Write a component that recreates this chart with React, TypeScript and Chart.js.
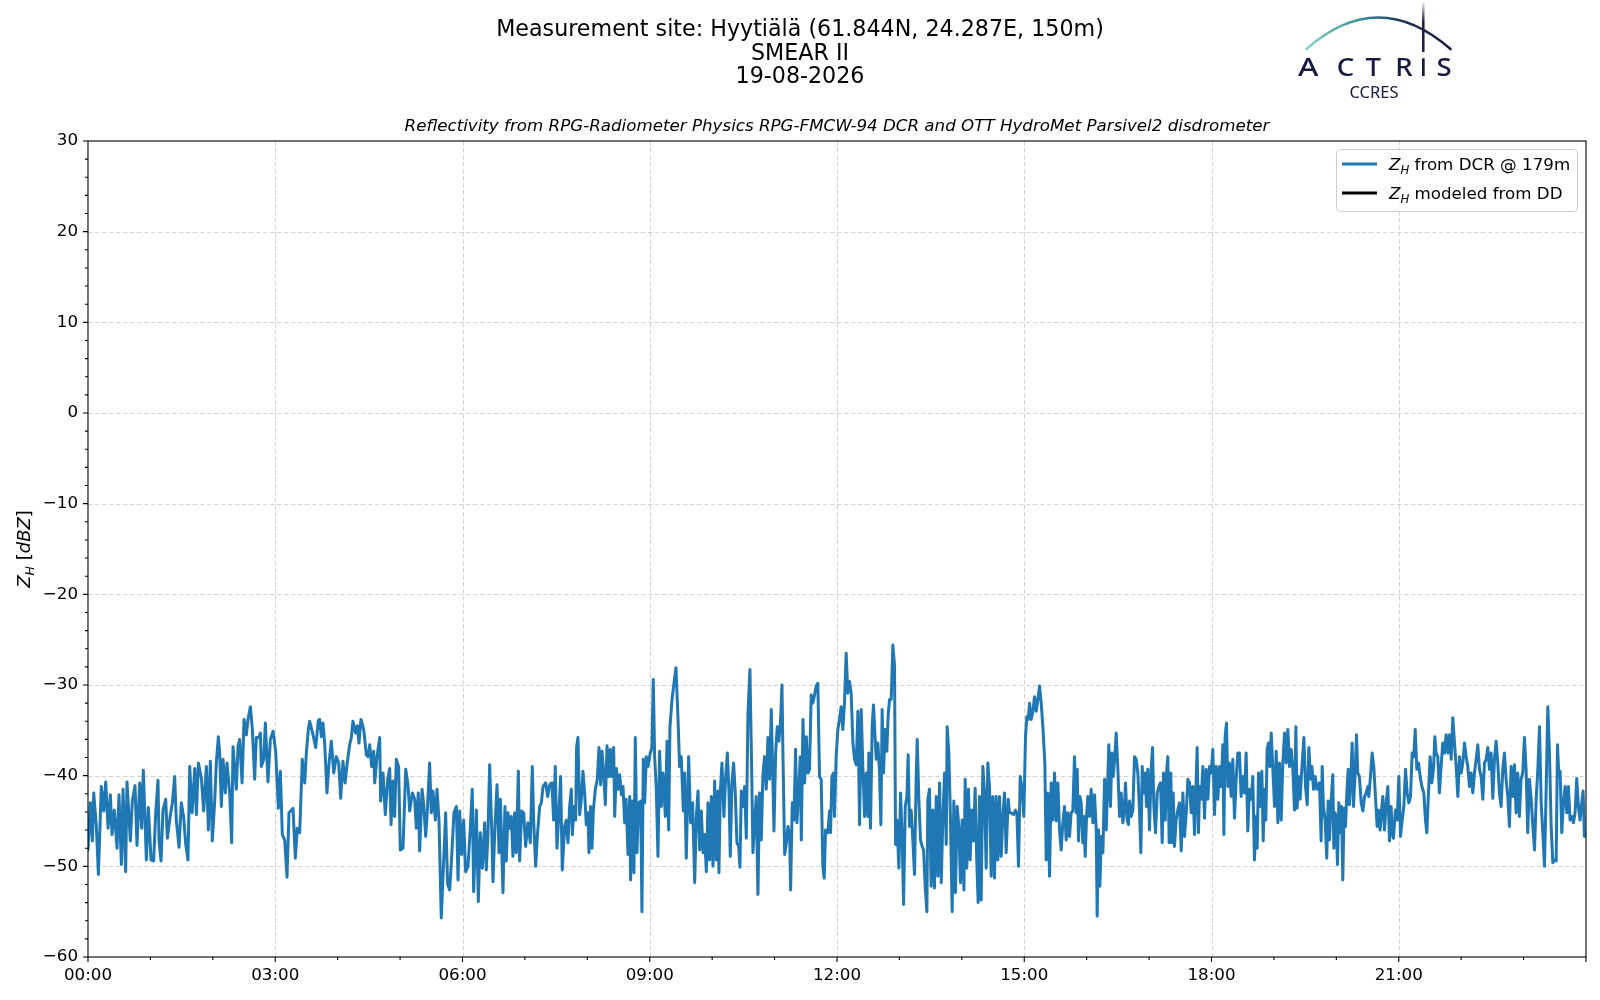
import { useEffect, useRef } from "react"
import { Chart, registerables } from "chart.js"

Chart.register(...registerables)

// time in minutes after 00:00 UTC, Z_H in dBZ (DCR @ 179 m)
const dcrSamples: [number, number][] = [
  [0, -48.2], [2.3, -43.0], [4.2, -47.2], [5.5, -41.9], [8.0, -45.6], [10.0, -50.9], [12.8, -41.2], [15.1, -43.9],
  [17.0, -40.7], [19.3, -45.8], [21.5, -42.1], [23.1, -46.5], [25.3, -43.8], [27.9, -48.0], [29.8, -42.1], [32.1, -49.8],
  [33.7, -41.5], [36.2, -50.6], [37.5, -40.7], [40.7, -47.2], [42.6, -42.8], [45.2, -41.1], [47.1, -47.7], [49.7, -40.8],
  [51.6, -45.8], [53.2, -39.4], [56.1, -49.3], [58.0, -43.5], [60.6, -49.3], [63.1, -49.4], [65.1, -44.1], [67.3, -40.5],
  [68.3, -47.2], [70.2, -49.4], [72.1, -43.8], [74.7, -42.6], [76.3, -46.9], [79.2, -44.3], [81.1, -43.0], [83.3, -40.1],
  [84.9, -44.9], [87.5, -47.9], [89.7, -43.0], [92.0, -44.6], [93.9, -47.5], [96.1, -49.3], [97.8, -39.0], [100.0, -44.1],
  [102.6, -39.2], [104.2, -44.3], [106.1, -38.6], [109.0, -40.3], [111.2, -43.9], [113.8, -39.0], [115.7, -46.0], [117.6, -38.4],
  [119.5, -47.2], [121.8, -42.8], [123.4, -38.5], [125.3, -35.7], [126.6, -37.5], [128.2, -43.4], [129.8, -38.2], [132.0, -41.9],
  [133.6, -38.6], [136.2, -41.9], [138.1, -47.4], [139.4, -36.8], [142.6, -41.5], [144.2, -36.8], [145.8, -36.0], [148.1, -40.8],
  [150.0, -33.8], [152.2, -35.5], [153.8, -33.8], [156.1, -32.4], [158.0, -34.9], [160.2, -40.4], [161.8, -35.8], [164.4, -35.8],
  [165.7, -35.3], [166.6, -39.0], [168.9, -38.2], [170.5, -34.2], [173.0, -40.7], [175.3, -36.0], [177.9, -35.1], [180.4, -37.3],
  [183.0, -43.6], [184.9, -39.5], [186.8, -46.5], [189.1, -47.1], [191.3, -51.2], [193.2, -44.1], [195.5, -43.8], [197.1, -43.6],
  [199.3, -49.1], [201.2, -45.8], [203.5, -46.3], [206.0, -38.2], [208.3, -40.8], [209.9, -37.5], [211.8, -34.9], [213.1, -34.0],
  [216.3, -35.5], [218.9, -36.9], [221.4, -33.9],
  [222.7, -33.8], [224.3, -35.7], [225.9, -34.2], [227.5, -36.4], [229.7, -41.9], [231.7, -38.6], [233.9, -36.2], [236.2, -39.7],
  [238.7, -37.9], [241.0, -38.6], [242.9, -42.5], [245.1, -38.4], [247.1, -40.8], [249.0, -38.8], [251.5, -36.6], [253.1, -35.8],
  [254.7, -34.0], [257.3, -35.3], [258.9, -34.5], [260.5, -36.4], [262.4, -33.8], [265.0, -34.9], [267.6, -37.7], [269.2, -37.9],
  [270.8, -36.6], [272.7, -39.0], [274.6, -37.3], [275.6, -40.8], [277.8, -37.9], [280.4, -35.8], [281.3, -42.8], [283.6, -39.7],
  [285.8, -44.3], [288.1, -40.4], [290.0, -39.2], [291.3, -45.4], [293.2, -40.6], [294.8, -44.5], [296.4, -38.2], [298.6, -39.0],
  [300.2, -48.2], [302.8, -48.0], [305.4, -39.3], [307.6, -41.0], [309.2, -43.9], [311.8, -41.9], [314.0, -42.6], [315.6, -45.8],
  [317.5, -41.9], [318.8, -48.3], [321.1, -41.5], [322.7, -43.2], [324.6, -46.7], [325.9, -44.5], [328.4, -38.6], [330.0, -44.1],
  [331.6, -41.7], [333.9, -44.9], [335.5, -41.5], [337.4, -44.9], [339.6, -55.7], [341.9, -49.4], [343.8, -44.1], [345.7, -52.0],
  [347.7, -52.6], [349.6, -48.9], [351.8, -44.1], [354.1, -43.4], [355.7, -51.5], [357.3, -43.9], [359.2, -48.7], [361.1, -44.9],
  [363.0, -50.6], [365.3, -50.0], [367.5, -45.8], [369.4, -41.5], [370.7, -52.8], [373.3, -43.8], [375.2, -53.9], [377.1, -46.3],
  [379.1, -50.2], [381.3, -45.2], [382.9, -50.4], [384.5, -46.3], [386.1, -38.8], [388.0, -45.6], [389.3, -51.7], [391.2, -45.6],
  [393.2, -41.0], [395.1, -48.5], [396.4, -42.6], [398.9, -52.9], [400.8, -43.4], [402.1, -49.4], [403.7, -44.1], [405.3, -45.8],
  [406.9, -44.5], [408.5, -48.9], [410.1, -44.1], [411.7, -48.5], [413.7, -39.5], [414.9, -49.4], [416.9, -43.9], [418.8, -44.1],
  [420.7, -47.8], [422.9, -45.2], [425.2, -47.4], [427.1, -39.0], [428.4, -44.9], [430.3, -50.0], [432.2, -46.3], [434.2, -43.4],
  [435.8, -43.0], [437.4, -41.2], [439.9, -40.8], [441.9, -42.3], [443.8, -41.0], [446.0, -40.8], [447.6, -44.9], [449.2, -39.0],
  [450.8, -48.0], [452.7, -44.1], [454.3, -40.1], [455.9, -50.4], [458.2, -45.6],
  [459.8, -44.9], [461.4, -47.4], [463.0, -43.4], [464.6, -41.5], [465.6, -46.5], [467.2, -43.4], [468.8, -44.9], [469.7, -36.8],
  [471.0, -35.8], [472.6, -44.3], [474.2, -42.6], [475.8, -39.5], [477.4, -41.9], [479.0, -45.4], [480.6, -44.1], [481.6, -48.5],
  [483.2, -43.4], [484.5, -48.0], [485.8, -43.8], [487.7, -41.5], [489.6, -40.4], [491.2, -36.9], [492.8, -41.0], [494.1, -37.3],
  [495.7, -39.7], [497.3, -43.2], [498.9, -36.7], [500.5, -40.1], [502.1, -37.1], [503.1, -40.1], [505.3, -36.9], [506.3, -44.5],
  [507.9, -39.2], [509.5, -41.5], [511.1, -39.9], [512.7, -42.1], [514.3, -41.2], [515.9, -45.2], [517.2, -42.6], [519.1, -48.7],
  [520.7, -42.3], [521.6, -51.5], [523.2, -42.8], [524.8, -50.7], [526.1, -35.8], [527.7, -48.5], [529.3, -43.0], [531.3, -42.8],
  [532.5, -55.0], [533.8, -38.2], [535.1, -43.0], [536.7, -37.9], [538.3, -39.0], [540.5, -37.5], [542.1, -36.9], [543.4, -29.4],
  [544.7, -37.9], [546.3, -41.5], [547.9, -48.9], [549.5, -37.3], [551.1, -43.4], [552.7, -39.7], [555.0, -44.5], [556.6, -36.2],
  [558.2, -46.0], [559.4, -34.7], [561.4, -31.6], [563.3, -29.8], [565.2, -28.1], [567.1, -33.5], [568.7, -39.0], [570.3, -37.9],
  [572.3, -43.9], [573.5, -39.7], [575.1, -49.1], [577.4, -37.9], [579.3, -45.2], [581.2, -43.0], [583.2, -51.8], [584.8, -44.5],
  [586.4, -41.7], [588.0, -48.2], [589.6, -43.9], [591.2, -48.5], [592.8, -46.5], [594.4, -50.6], [596.0, -43.0], [597.6, -49.3],
  [599.2, -42.3], [600.8, -50.0], [602.4, -40.6], [604.0, -49.3], [605.6, -41.7], [606.5, -50.7], [607.8, -41.9], [609.4, -38.6],
  [611.3, -44.5], [612.9, -40.3], [614.6, -37.5], [616.2, -41.9], [617.4, -48.9], [619.0, -40.8], [620.6, -38.6], [622.2, -41.9],
  [623.8, -47.4], [625.5, -47.8], [626.7, -50.1], [628.0, -41.7], [629.6, -43.4], [631.2, -41.2], [632.8, -46.9], [634.4, -33.3],
  [636.3, -28.3], [637.6, -36.8], [639.2, -48.5], [640.8, -45.2], [642.4, -42.3], [644.0, -53.1], [645.6, -41.9], [647.2, -47.1],
  [648.8, -39.9], [650.4, -37.9], [652.0, -41.5], [653.6, -35.8], [655.2, -40.4], [656.8, -32.7], [658.5, -41.2], [659.4, -46.1],
  [661.0, -37.5], [662.6, -34.6], [664.2, -36.2], [665.8, -33.8], [667.1, -30.0], [668.1, -38.1], [669.7, -48.7], [671.3, -47.4],
  [672.9, -45.6], [674.5, -46.7], [675.4, -52.6], [677.0, -43.0], [678.6, -44.9], [680.2, -37.1], [681.5, -45.2], [683.1, -41.9],
  [684.7, -37.9], [685.7, -47.1], [687.3, -33.8], [688.9, -40.8], [690.5, -35.7], [692.1, -39.7],
  [693.6, -39.3], [695.2, -31.1], [696.8, -32.0], [698.4, -31.1], [700.0, -30.1], [701.6, -29.8], [703.2, -40.1], [704.8, -40.4],
  [706.4, -50.0], [707.7, -51.3], [709.0, -46.0], [711.2, -46.3], [712.8, -43.9], [713.8, -46.3], [715.1, -40.1], [716.7, -39.7],
  [717.6, -44.5], [719.2, -37.9], [720.8, -34.9], [722.4, -33.8], [724.0, -32.4], [725.6, -34.9], [727.2, -32.0], [728.8, -26.5],
  [730.4, -30.9], [732.0, -29.6], [733.6, -30.9], [735.3, -36.4], [736.9, -38.2], [738.5, -38.8], [740.1, -32.9], [741.7, -45.4],
  [743.3, -32.7], [744.9, -39.3], [746.5, -44.5], [748.1, -39.7], [749.7, -44.5], [750.6, -37.5], [752.2, -45.8], [753.8, -34.6],
  [755.1, -32.2], [756.4, -35.3], [757.7, -38.2], [759.3, -36.4], [760.9, -39.7], [762.2, -45.4], [763.4, -32.7], [764.7, -39.7],
  [766.3, -34.9], [767.9, -37.3], [769.2, -33.3], [770.5, -31.6], [772.1, -31.6], [773.7, -25.6], [775.3, -27.9], [776.3, -47.6],
  [777.6, -44.9], [779.5, -50.2], [781.1, -41.9], [782.7, -47.1], [784.0, -54.2], [785.6, -43.4], [787.2, -42.3], [788.4, -37.7],
  [789.7, -45.6], [791.3, -43.8], [792.9, -47.1], [794.5, -50.9], [796.1, -40.4], [797.1, -36.0], [798.7, -42.6], [800.3, -47.1],
  [801.9, -47.8], [803.2, -48.2], [804.8, -52.2], [806.4, -55.0], [807.3, -42.6], [808.9, -41.5], [810.5, -52.2], [812.1, -43.8],
  [813.7, -52.4], [815.4, -42.3], [817.0, -51.1], [818.6, -40.8], [820.2, -51.8], [821.8, -44.5], [823.4, -39.7], [825.0, -47.6],
  [825.9, -34.6], [827.5, -37.5], [829.1, -44.9], [830.7, -55.0], [832.3, -42.8], [833.9, -52.9], [835.5, -43.4], [837.1, -45.6],
  [838.7, -51.8], [840.3, -44.9], [842.0, -52.6], [843.2, -40.4], [844.8, -50.2], [846.4, -41.5], [848.0, -49.3], [849.6, -43.8],
  [851.2, -47.2], [852.8, -41.4], [854.4, -49.6], [855.7, -54.0], [857.0, -42.3], [858.6, -53.7], [860.2, -39.0], [861.8, -41.9],
  [863.4, -50.2], [865.0, -38.6], [866.6, -41.2], [868.2, -51.1], [869.8, -42.3], [871.4, -51.3], [873.0, -42.3], [874.6, -49.3],
  [876.2, -42.3], [877.8, -48.9], [879.4, -44.5], [881.0, -41.9], [882.6, -48.5], [884.6, -42.6], [885.8, -44.1], [887.4, -44.1],
  [889.7, -44.3], [891.6, -43.8], [892.9, -44.1], [894.5, -50.0], [896.1, -40.1], [898.0, -41.5], [899.6, -44.5], [901.2, -35.7],
  [902.5, -33.5], [903.8, -33.8], [905.1, -32.0], [906.7, -33.8], [908.3, -32.9], [909.9, -31.3], [911.5, -32.9], [913.1, -31.6],
  [914.7, -30.1], [916.3, -32.0], [917.9, -34.6], [919.8, -38.6], [921.1, -49.3], [922.7, -41.9], [924.3, -51.1], [925.9, -40.8],
  [927.5, -44.9],
  [929.1, -39.7], [930.7, -45.0], [932.3, -40.8], [933.9, -46.0], [935.5, -48.2], [937.1, -45.2], [938.7, -43.4], [940.3, -47.1],
  [941.9, -44.1], [943.5, -46.7], [945.1, -44.1], [946.7, -43.9], [948.3, -37.9], [949.9, -44.1], [950.9, -39.3], [952.2, -47.2],
  [953.5, -42.3], [954.7, -43.0], [956.3, -47.4], [957.3, -44.5], [958.6, -48.9], [959.9, -44.5], [961.1, -42.3], [962.7, -44.5],
  [964.3, -41.5], [966.0, -45.2], [967.6, -42.1], [969.2, -46.0], [970.1, -55.5], [971.4, -46.0], [972.7, -52.2], [974.0, -46.7],
  [975.6, -48.5], [977.2, -40.4], [978.8, -46.0], [980.4, -40.1], [981.3, -36.6], [982.9, -43.4], [984.2, -37.5], [985.5, -40.1],
  [986.8, -38.2], [988.4, -35.3], [990.0, -39.3], [991.6, -44.5], [993.2, -41.9], [994.8, -45.2], [996.4, -43.4], [997.3, -40.8],
  [998.9, -44.9], [1000.2, -45.4], [1001.2, -42.8], [1002.8, -44.5], [1004.4, -43.8], [1006.0, -37.9], [1007.6, -38.2], [1009.2, -39.7],
  [1010.8, -43.8], [1012.1, -48.5], [1013.4, -39.0], [1014.6, -41.9], [1016.2, -39.7], [1017.5, -43.4], [1018.8, -39.3], [1020.4, -46.0],
  [1022.0, -39.3], [1023.3, -36.9], [1024.6, -43.4], [1026.2, -46.3], [1027.8, -41.9], [1029.4, -41.2], [1031.0, -40.8], [1032.6, -47.4],
  [1033.9, -39.7], [1035.5, -44.9], [1036.8, -39.7], [1038.0, -37.9], [1039.3, -47.4], [1040.9, -39.7], [1041.9, -47.4], [1043.2, -41.9],
  [1044.4, -47.8], [1046.0, -44.9], [1047.6, -43.8], [1049.3, -43.0], [1050.9, -48.3], [1052.5, -41.9], [1054.1, -46.7], [1055.7, -44.1],
  [1057.3, -40.4], [1058.9, -40.8], [1060.5, -44.1], [1062.1, -41.2], [1063.7, -46.5], [1065.3, -40.4], [1066.2, -36.9], [1067.5, -46.3],
  [1068.5, -41.2], [1070.1, -42.6], [1071.7, -39.0], [1073.3, -44.7], [1074.9, -39.3], [1076.5, -42.6], [1078.1, -39.0], [1079.7, -39.7],
  [1081.3, -37.1], [1082.9, -44.3], [1084.5, -39.0], [1086.1, -42.6], [1087.7, -39.0], [1089.3, -41.2], [1090.9, -36.6], [1091.9, -46.5],
  [1093.1, -35.7], [1094.4, -34.2], [1095.7, -41.2], [1097.3, -38.6], [1098.9, -42.3], [1100.5, -38.2], [1102.1, -44.7], [1103.7, -40.4],
  [1105.3, -37.5], [1106.9, -37.5], [1108.5, -42.3], [1110.1, -40.1], [1111.7, -41.9], [1113.3, -37.5], [1114.9, -46.1], [1116.5, -41.5],
  [1118.1, -42.6], [1119.7, -40.1], [1121.3, -49.3], [1122.9, -44.5], [1123.9, -48.0], [1125.2, -39.7], [1126.8, -43.4], [1128.4, -39.5],
  [1129.7, -47.2], [1130.9, -41.5], [1132.2, -44.9], [1133.5, -37.1], [1134.8, -36.4], [1136.1, -39.0], [1137.4, -35.3], [1139.0, -39.3],
  [1140.6, -43.4], [1142.2, -37.3], [1143.8, -45.2], [1145.4, -38.6], [1147.0, -44.9], [1148.6, -38.6], [1150.2, -35.3], [1151.8, -38.6],
  [1153.4, -34.9], [1155.0, -39.0], [1156.6, -37.1], [1158.2, -39.3], [1159.8, -43.8], [1161.1, -34.6], [1162.3, -43.6], [1163.6, -40.1],
  [1165.2, -42.6], [1166.8, -39.3], [1168.8, -35.8], [1170.4, -41.2], [1172.0, -43.2], [1173.6, -36.9], [1175.2, -40.4], [1176.5, -39.0],
  [1178.1, -41.5], [1179.7, -40.1], [1181.3, -41.5],
  [1183.8, -40.8], [1185.4, -47.2], [1186.4, -39.0], [1187.6, -43.4], [1189.2, -44.9], [1190.8, -49.1], [1192.1, -42.8], [1193.4, -47.1],
  [1195.0, -42.8], [1196.6, -39.9], [1197.6, -48.0], [1198.9, -44.1], [1199.8, -44.9], [1201.1, -49.8], [1202.4, -43.0], [1203.7, -46.3],
  [1205.0, -43.4], [1206.2, -51.5], [1207.5, -43.6], [1208.8, -45.6], [1210.1, -41.9], [1211.4, -39.3], [1212.6, -43.2], [1213.9, -40.4],
  [1215.2, -36.4], [1216.5, -43.4], [1218.1, -39.7], [1219.4, -35.5], [1220.6, -39.7], [1222.2, -40.1], [1223.9, -43.0], [1225.5, -43.9],
  [1227.1, -42.3], [1228.7, -41.9], [1230.3, -41.2], [1231.2, -42.3], [1232.8, -40.1], [1234.4, -37.5], [1236.0, -39.0], [1237.6, -42.3],
  [1239.2, -45.6], [1240.5, -43.8], [1242.1, -46.0], [1243.4, -43.8], [1244.7, -42.3], [1246.3, -46.0], [1247.9, -43.0], [1249.5, -41.2],
  [1251.1, -47.2], [1252.7, -43.4], [1253.6, -46.3], [1254.9, -46.9], [1256.8, -43.8], [1258.5, -44.9], [1260.1, -40.1], [1261.7, -46.7],
  [1263.3, -44.9], [1264.9, -43.4], [1266.5, -39.3], [1268.1, -41.9], [1269.7, -43.0], [1271.3, -42.3], [1272.9, -37.5], [1274.5, -37.9],
  [1275.8, -34.9], [1277.4, -39.3], [1279.0, -38.6], [1280.6, -40.1], [1282.2, -41.2], [1284.1, -41.9], [1285.7, -44.9], [1287.0, -46.3],
  [1288.3, -42.6], [1290.2, -37.9], [1291.8, -40.8], [1293.4, -39.3], [1294.7, -35.7], [1295.9, -37.5], [1297.5, -37.9], [1299.1, -41.9],
  [1300.7, -39.0], [1302.3, -36.4], [1303.9, -37.5], [1305.6, -35.5], [1307.2, -37.5], [1308.8, -35.5], [1310.4, -38.2], [1312.0, -33.6],
  [1313.6, -36.4], [1315.2, -39.0], [1316.8, -42.3], [1318.4, -37.9], [1320.0, -39.7], [1321.6, -38.6], [1323.2, -36.4], [1324.8, -37.9],
  [1326.4, -39.0], [1328.0, -41.2], [1329.6, -39.7], [1331.2, -41.9], [1332.8, -39.7], [1334.4, -38.2], [1336.0, -36.6], [1337.6, -39.3],
  [1339.2, -40.1], [1340.8, -42.6], [1342.4, -38.6], [1344.0, -38.2], [1345.6, -36.9], [1347.2, -39.3], [1348.8, -37.5], [1350.4, -42.5],
  [1352.0, -38.2], [1353.6, -36.2], [1355.2, -38.6], [1356.8, -41.9], [1358.4, -43.4], [1360.0, -39.3], [1361.6, -37.5], [1363.2, -40.4],
  [1364.8, -42.3], [1366.4, -45.6], [1368.0, -39.0], [1369.6, -42.3], [1371.2, -38.8], [1372.8, -44.1], [1374.4, -39.7], [1376.0, -44.5],
  [1377.6, -40.4], [1379.2, -39.7], [1380.8, -35.8], [1382.4, -39.3], [1384.0, -46.3], [1385.6, -40.4], [1387.3, -42.6], [1388.9, -45.6],
  [1390.5, -48.2], [1392.1, -42.6], [1393.7, -39.3], [1395.3, -34.6], [1396.9, -43.0], [1398.5, -46.3], [1400.1, -50.0], [1401.7, -41.5],
  [1403.3, -32.4], [1404.9, -37.5], [1406.5, -45.6], [1408.1, -49.6], [1409.7, -49.3], [1411.3, -49.4], [1412.6, -36.6], [1413.9, -40.1],
  [1415.1, -39.5], [1416.7, -46.3], [1418.3, -43.0], [1419.9, -41.2], [1421.5, -44.1], [1423.1, -41.2], [1424.7, -44.9], [1426.3, -44.5],
  [1427.9, -45.2], [1429.5, -44.1], [1431.1, -40.3], [1432.7, -43.4], [1434.3, -44.9], [1435.9, -43.0], [1437.2, -41.7], [1438.5, -46.7],
]

// modeled Z_H from the disdrometer: no valid samples on this day
const ddSamples: [number, number][] = []

const hourTicks = [0, 180, 360, 540, 720, 900, 1080, 1260]
const hourLabels = ["00:00", "03:00", "06:00", "09:00", "12:00", "15:00", "18:00", "21:00"]
const zTicks = [-60, -50, -40, -30, -20, -10, 0, 10, 20, 30]

const siteTitle = [
  "Measurement site: Hyytiälä (61.844N, 24.287E, 150m)",
  "SMEAR II",
  "19-08-2026",
]
const subTitle = "Reflectivity from RPG-Radiometer Physics RPG-FMCW-94 DCR and OTT HydroMet Parsivel2 disdrometer"

const FONT = '"DejaVu Sans"'
const DCR_BLUE = "#1f77b4"
const NAVY = "#161a3e"

type Part = { t: string; it?: boolean; sub?: boolean }

function drawParts(ctx: CanvasRenderingContext2D, parts: Part[], x: number, y: number, size: number, align: "left" | "center") {
  const fonts = parts.map((p) => `${p.it ? "italic " : ""}${p.sub ? size * 0.7 : size}px ${FONT}`)
  const widths = parts.map((p, i) => {
    ctx.font = fonts[i]
    return ctx.measureText(p.t).width
  })
  const total = widths.reduce((a, b) => a + b, 0)
  let cx = align === "center" ? x - total / 2 : x
  ctx.textAlign = "left"
  ctx.textBaseline = "alphabetic"
  parts.forEach((p, i) => {
    ctx.font = fonts[i]
    ctx.fillText(p.t, cx, y + (p.sub ? size * 0.22 : 0))
    cx += widths[i]
  })
}

function drawLogo(ctx: CanvasRenderingContext2D) {
  ctx.save()
  // arc
  const g = ctx.createLinearGradient(1306, 0, 1451, 0)
  g.addColorStop(0, "#8ad3cb")
  g.addColorStop(0.4, "#2f8a94")
  g.addColorStop(0.7, "#1d2c52")
  g.addColorStop(1, NAVY)
  ctx.strokeStyle = g
  ctx.lineWidth = 2.6
  ctx.lineCap = "round"
  ctx.beginPath()
  ctx.moveTo(1306.5, 49)
  ctx.quadraticCurveTo(1378, -14, 1450.5, 49)
  ctx.stroke()
  // mast
  const v = ctx.createLinearGradient(0, 1, 0, 22)
  v.addColorStop(0, "rgba(22,26,62,0)")
  v.addColorStop(1, NAVY)
  ctx.strokeStyle = v
  ctx.lineWidth = 2.5
  ctx.lineCap = "butt"
  ctx.beginPath()
  ctx.moveTo(1423.3, 1)
  ctx.lineTo(1423.3, 52)
  ctx.stroke()
  // letters
  ctx.fillStyle = NAVY
  ctx.textAlign = "center"
  ctx.textBaseline = "alphabetic"
  ctx.font = `500 25px "Noto Sans"`
  const letters: [string, number][] = [["A", 1308.3], ["C", 1345.5], ["T", 1373.3], ["R", 1404], ["S", 1444]]
  letters.forEach(([l, x]) => {
    ctx.save()
    ctx.translate(x, 76)
    ctx.scale(l === "A" ? 1.25 : 1.1, 1)
    ctx.fillText(l, 0, 0)
    ctx.restore()
  })
  ctx.fillRect(1422, 58.3, 2.7, 17.7)
  ctx.font = `16.5px "Noto Sans"`
  ctx.fillText("CCRES", 1374, 98.3)
  ctx.restore()
}

const decorPlugin = {
  id: "decor",
  beforeDatasetsDraw(chart: any) {
    const { ctx, chartArea: a } = chart
    const xs = chart.scales.x
    const ys = chart.scales.y
    ctx.save()
    ctx.strokeStyle = "#d3d3d3"
    ctx.lineWidth = 1
    ctx.setLineDash([4.5, 2.5])
    ctx.beginPath()
    zTicks.forEach((t) => {
      const py = Math.round(ys.getPixelForValue(t)) + 0.5
      if (py < a.top + 2 || py > a.bottom - 2) return
      ctx.moveTo(a.left, py)
      ctx.lineTo(a.right, py)
    })
    hourTicks.forEach((t) => {
      const px = Math.round(xs.getPixelForValue(t)) + 0.5
      if (px < a.left + 2 || px > a.right - 2) return
      ctx.moveTo(px, a.top)
      ctx.lineTo(px, a.bottom)
    })
    ctx.stroke()
    ctx.restore()
  },
  afterDraw(chart: any) {
    const { ctx, chartArea: a } = chart
    const xs = chart.scales.x
    const ys = chart.scales.y
    ctx.save()
    // axes box
    ctx.strokeStyle = "#000"
    ctx.lineWidth = 1.1
    ctx.strokeRect(a.left, a.top, a.right - a.left, a.bottom - a.top)
    // ticks
    ctx.beginPath()
    for (let v = -60; v <= 30; v += 2) {
      const py = ys.getPixelForValue(v)
      const len = v % 10 === 0 ? 5 : 3
      ctx.moveTo(a.left, py)
      ctx.lineTo(a.left - len, py)
    }
    for (let m = 0; m <= 1440; m += 60) {
      const px = xs.getPixelForValue(m)
      const len = m % 180 === 0 ? 5 : 3
      ctx.moveTo(px, a.bottom)
      ctx.lineTo(px, a.bottom + len)
    }
    ctx.stroke()

    // titles
    ctx.fillStyle = "#000"
    ctx.textAlign = "center"
    ctx.textBaseline = "alphabetic"
    ctx.font = `22.2px ${FONT}`
    siteTitle.forEach((line, i) => ctx.fillText(line, 800, 36 + i * 23.5))
    ctx.font = `italic 16.7px ${FONT}`
    ctx.fillText(subTitle, (a.left + a.right) / 2, 130.5)

    // y label
    ctx.save()
    ctx.translate(30, (a.top + a.bottom) / 2)
    ctx.rotate(-Math.PI / 2)
    drawParts(ctx, [{ t: "Z", it: true }, { t: "H", it: true, sub: true }, { t: " [" }, { t: "dBZ", it: true }, { t: "]" }], 0, 0, 18, "center")
    ctx.restore()

    // legend
    const lx = 1336, ly = 149, lw = 241, lh = 62
    ctx.beginPath()
    ctx.roundRect(lx + 0.5, ly + 0.5, lw, lh, 4)
    ctx.fillStyle = "rgba(255,255,255,0.8)"
    ctx.fill()
    ctx.strokeStyle = "#cccccc"
    ctx.lineWidth = 1
    ctx.stroke()
    const rows: [string, string, number][] = [
      [" from DCR @ 179m", DCR_BLUE, 164],
      [" modeled from DD", "#000000", 193],
    ]
    rows.forEach(([txt, col, cy]) => {
      ctx.strokeStyle = col
      ctx.lineWidth = 3
      ctx.lineCap = "butt"
      ctx.beginPath()
      ctx.moveTo(1342, cy)
      ctx.lineTo(1377, cy)
      ctx.stroke()
      ctx.fillStyle = "#000"
      drawParts(ctx, [{ t: "Z", it: true }, { t: "H", it: true, sub: true }, { t: txt }], 1389, cy + 6, 16.7, "left")
    })

    drawLogo(ctx)
    ctx.restore()
  },
}

export default function App() {
  const chartRef = useRef<HTMLCanvasElement>(null)
  const chartInstance = useRef<Chart | null>(null)

  useEffect(() => {
    document.body.style.margin = "0"
    if (!chartRef.current) return
    const ctx = chartRef.current.getContext("2d")
    if (!ctx) return

    if (chartInstance.current) {
      chartInstance.current.destroy()
    }

    chartInstance.current = new Chart(ctx, {
      type: "line",
      data: {
        datasets: [
          {
            label: "Z_H from DCR @ 179m",
            data: dcrSamples.map(([x, y]) => ({ x, y })),
            borderColor: DCR_BLUE,
            borderWidth: 3,
            borderJoinStyle: "round",
            borderCapStyle: "round",
            pointRadius: 0,
            tension: 0,
          },
          {
            label: "Z_H modeled from DD",
            data: ddSamples.map(([x, y]) => ({ x, y })),
            borderColor: "#000000",
            borderWidth: 3,
            pointRadius: 0,
          },
        ],
      },
      options: {
        responsive: false,
        animation: false,
        devicePixelRatio: 1,
        layout: { padding: { top: 141, right: 14, left: 0, bottom: 0 } },
        plugins: {
          legend: { display: false },
          title: { display: false },
          tooltip: { enabled: false },
        },
        scales: {
          x: {
            type: "linear",
            min: 0,
            max: 1440,
            grid: { display: false, drawTicks: false },
            border: { display: false },
            afterFit: (scale: any) => {
              scale.height = 43
            },
            ticks: {
              stepSize: 180,
              autoSkip: false,
              maxRotation: 0,
              padding: 9,
              color: "#000",
              font: { family: "DejaVu Sans", size: 16.7 },
              callback: (v: any) => {
                const i = hourTicks.indexOf(Number(v))
                return i >= 0 ? hourLabels[i] : ""
              },
            },
          },
          y: {
            min: -60,
            max: 30,
            grid: { display: false, drawTicks: false },
            border: { display: false },
            afterFit: (scale: any) => {
              scale.width = 88
            },
            ticks: {
              stepSize: 10,
              padding: 10,
              color: "#000",
              font: { family: "DejaVu Sans", size: 16.7 },
              callback: (v: any) => (Number(v) < 0 ? "\u2212" + Math.abs(Number(v)) : String(v)),
            },
          },
        },
      },
      plugins: [decorPlugin],
    })

    return () => {
      if (chartInstance.current) {
        chartInstance.current.destroy()
        chartInstance.current = null
      }
    }
  }, [])

  return (
    <div style={{ position: "absolute", left: 0, top: 0, width: 1600, height: 1000, background: "#fff" }}>
      <canvas ref={chartRef} width={1600} height={1000} style={{ display: "block" }} />
    </div>
  )
}
